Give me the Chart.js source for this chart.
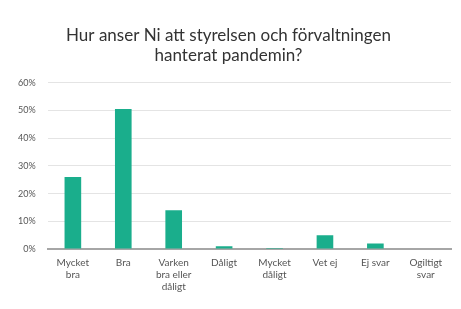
<!DOCTYPE html>
<html>
<head>
<meta charset="utf-8">
<script src="https://cdn.jsdelivr.net/npm/chart.js@4"></script>
<style>
  html, body { margin: 0; padding: 0; background: #fff; }
  #wrap { width: 461px; height: 309px; }
</style>
</head>
<body>
<div id="wrap"><canvas id="surveyChart" width="461" height="309"></canvas></div>
<script>
const categories = [
  ["Mycket", "bra"],
  "Bra",
  ["Varken", "bra eller", "dåligt"],
  "Dåligt",
  ["Mycket", "dåligt"],
  "Vet ej",
  "Ej svar",
  ["Ogiltigt", "svar"]
];
const shares = [26, 50.5, 14, 1, 0.4, 5, 2, 0];
const yTicks = [0, 10, 20, 30, 40, 50, 60];

document.addEventListener("DOMContentLoaded", function () {
  const ctx = document.getElementById("surveyChart");
  if (!ctx) return;

  new Chart(ctx, {
    type: "bar",
    data: {
      labels: categories,
      datasets: [
        {
          data: shares,
          backgroundColor: "#1aae8c",
          borderWidth: 0,
          barPercentage: 0.33,
          categoryPercentage: 1,
        },
      ],
    },
    options: {
      responsive: false,
      animation: false,
      layout: { padding: { left: 6, right: 10, top: 25, bottom: 8 } },
      plugins: {
        legend: { display: false },
        tooltip: { enabled: false },
        title: {
          display: true,
          text: ["Hur anser Ni att styrelsen och förvaltningen", "hanterat pandemin?"],
          color: "#333",
          font: { family: "Lato", size: 17, weight: "normal" },
          lineHeight: 1.55,
          padding: { top: 0, bottom: 17 },
        },
      },
      scales: {
        x: {
          grid: { display: false, drawTicks: false },
          border: { color: "#a6a6a6", width: 2 },
          ticks: {
            color: "#555",
            font: { family: "Lato", size: 10 },
            maxRotation: 0,
            autoSkip: false,
            padding: 8,
          },
        },
        y: {
          min: 0,
          max: 60,
          afterBuildTicks: (axis) => {
            axis.ticks = yTicks.map((v) => ({ value: v }));
          },
          grid: { color: "#e4e4e4", drawTicks: false },
          border: { display: false },
          ticks: {
            color: "#555",
            font: { family: "Lato", size: 9 },
            padding: 12,
            callback: (v) => v + "%",
          },
        },
      },
    },
  });
});
</script>
</body>
</html>
